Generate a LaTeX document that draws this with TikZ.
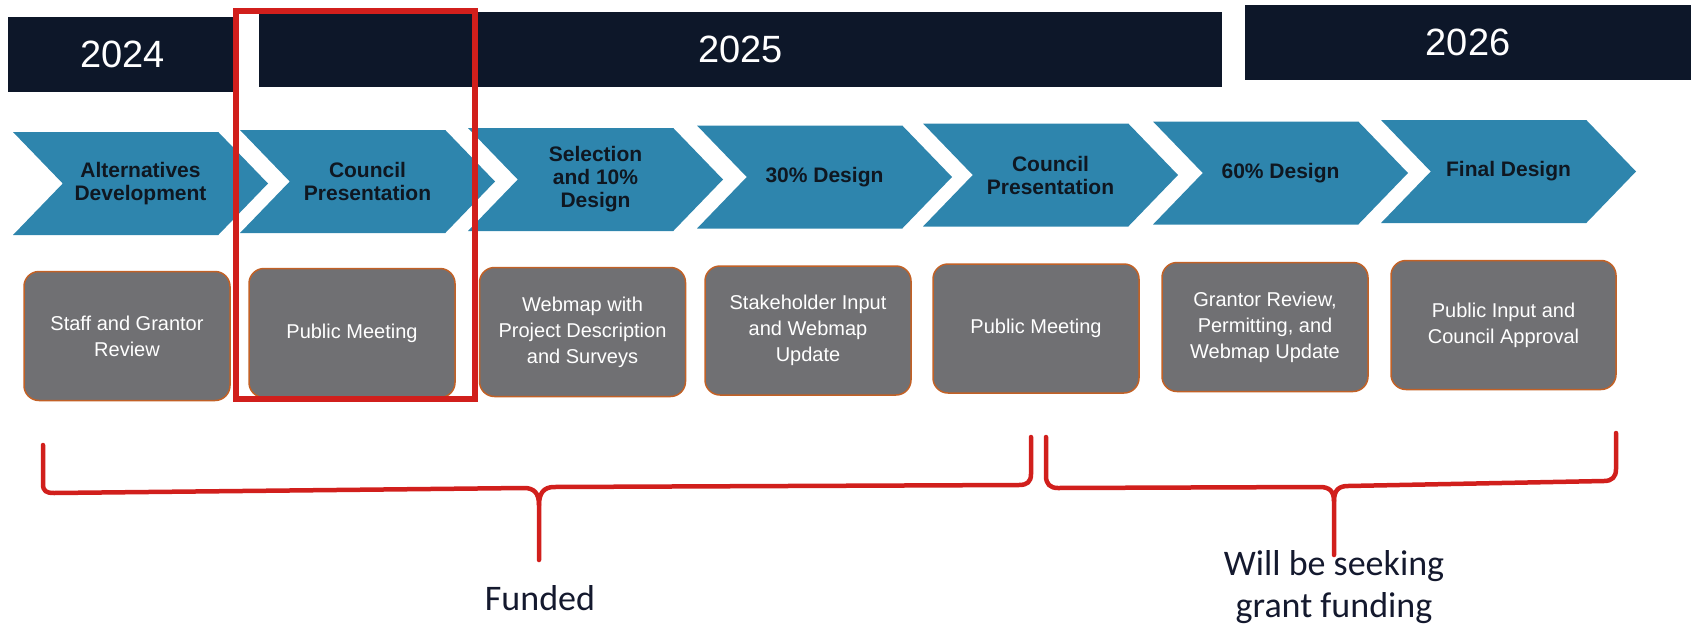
\documentclass[tikz,border=0pt]{standalone}
\usepackage{fontspec}
\setmainfont{Liberation Sans}
\newfontfamily\notefont{Carlito}
\usepackage{tikz}
\usetikzlibrary{shapes.symbols}
\usepackage{xcolor}
\definecolor{navybar}{rgb}{0.05,0.09,0.16}
\definecolor{stepblue}{rgb}{0.18,0.52,0.68}
\definecolor{boxgray}{rgb}{0.44,0.44,0.45}
\definecolor{boxedge}{rgb}{0.76,0.38,0.15}
\definecolor{markred}{rgb}{0.82,0.12,0.11}
\definecolor{inkdark}{rgb}{0.06,0.09,0.13}
\definecolor{notenavy}{rgb}{0.08,0.10,0.18}
\tikzstyle{year}=[fill=navybar,text=white,minimum height=75pt,inner sep=0pt,font=\fontsize{38}{40}\selectfont]
\tikzstyle{phase}=[signal,signal to=east,signal from=west,signal pointer angle=92,fill=stepblue,text=inkdark,minimum width=255pt,minimum height=103pt,inner sep=0pt,align=center,font=\fontsize{21}{23}\selectfont\bfseries]
\tikzstyle{task}=[rounded corners=15pt,fill=boxgray,draw=boxedge,line width=1.5pt,text=white,minimum width=206pt,minimum height=129pt,inner sep=0pt,align=center,font=\fontsize{20}{26}\selectfont]
\tikzstyle{focus}=[draw=markred,line width=6pt,minimum width=239pt,minimum height=388pt,inner sep=0pt]
\tikzstyle{brace}=[markred,line width=4.5pt,line cap=round,line join=round]
\tikzstyle{note}=[text=notenavy,align=center,font=\notefont\fontsize{36}{42}\selectfont]

\begin{document}
\begin{tikzpicture}[x=1pt,y=-1pt]
		\useasboundingbox (0,0) rectangle (1691,629);
% year bars
		\node[year,minimum width=229pt](y2024) at (122.5,54.5){2024};
		\node[year,minimum width=963pt](y2025) at (740.5,49){2025};
		\node[year,minimum width=446pt](y2026) at (1468,42.5){2026};
% phases
		\node[phase](p1) at (140.5,183.5){Alternatives\\Development};
		\node[phase](p2) at (367.5,181.5){Council\\Presentation};
		\node[phase](p3) at (595.5,179.5){Selection\\and 10\%\\Design};
		\node[phase](p4) at (824.5,177){30\% Design};
		\node[phase](p5) at (1050.5,175){Council\\Presentation};
		\node[phase](p6) at (1280.5,173){60\% Design};
		\node[phase](p7) at (1508.5,171.5){Final Design};
% tasks under each phase
		\node[task](t1) at (127,336){Staff and Grantor\\Review};
		\node[task](t2) at (352,333){Public Meeting};
		\node[task](t3) at (582.5,332){Webmap with\\Project Description\\and Surveys};
		\node[task](t4) at (808,330.5){Stakeholder Input\\and Webmap\\Update};
		\node[task](t5) at (1036,328.5){Public Meeting};
		\node[task](t6) at (1265,327){Grantor Review,\\Permitting, and\\Webmap Update};
		\node[task,minimum width=225pt](t7) at (1503.5,325){Public Input and\\Council Approval};
% highlight
		\node[focus](hl) at (355.5,205){};
% funded brace
		\draw[brace] (43,445) -- (43,484) .. controls (43,491) and (46,493) .. (54,493) -- (524,488) .. controls (534,488) and (539,493) .. (539,505) -- (539,560);
		\draw[brace] (539,505) .. controls (539,493) and (544,487) .. (554,487) -- (1019,485) .. controls (1027,485) and (1031,482) .. (1031,474) -- (1031,437);
% grant brace
		\draw[brace] (1046,437) -- (1046,476) .. controls (1046,484) and (1050,488) .. (1058,488) -- (1320,487) .. controls (1329,487) and (1334,491) .. (1334,501) -- (1334,555);
		\draw[brace] (1334,501) .. controls (1334,490) and (1339,486) .. (1348,486) -- (1604,481) .. controls (1612,481) and (1616,477) .. (1616,469) -- (1616,433);

		\node[note](funded) at (540,598){Funded};
		\node[note](seeking) at (1334,587){Will be seeking\\grant funding};
\end{tikzpicture}
\end{document}
